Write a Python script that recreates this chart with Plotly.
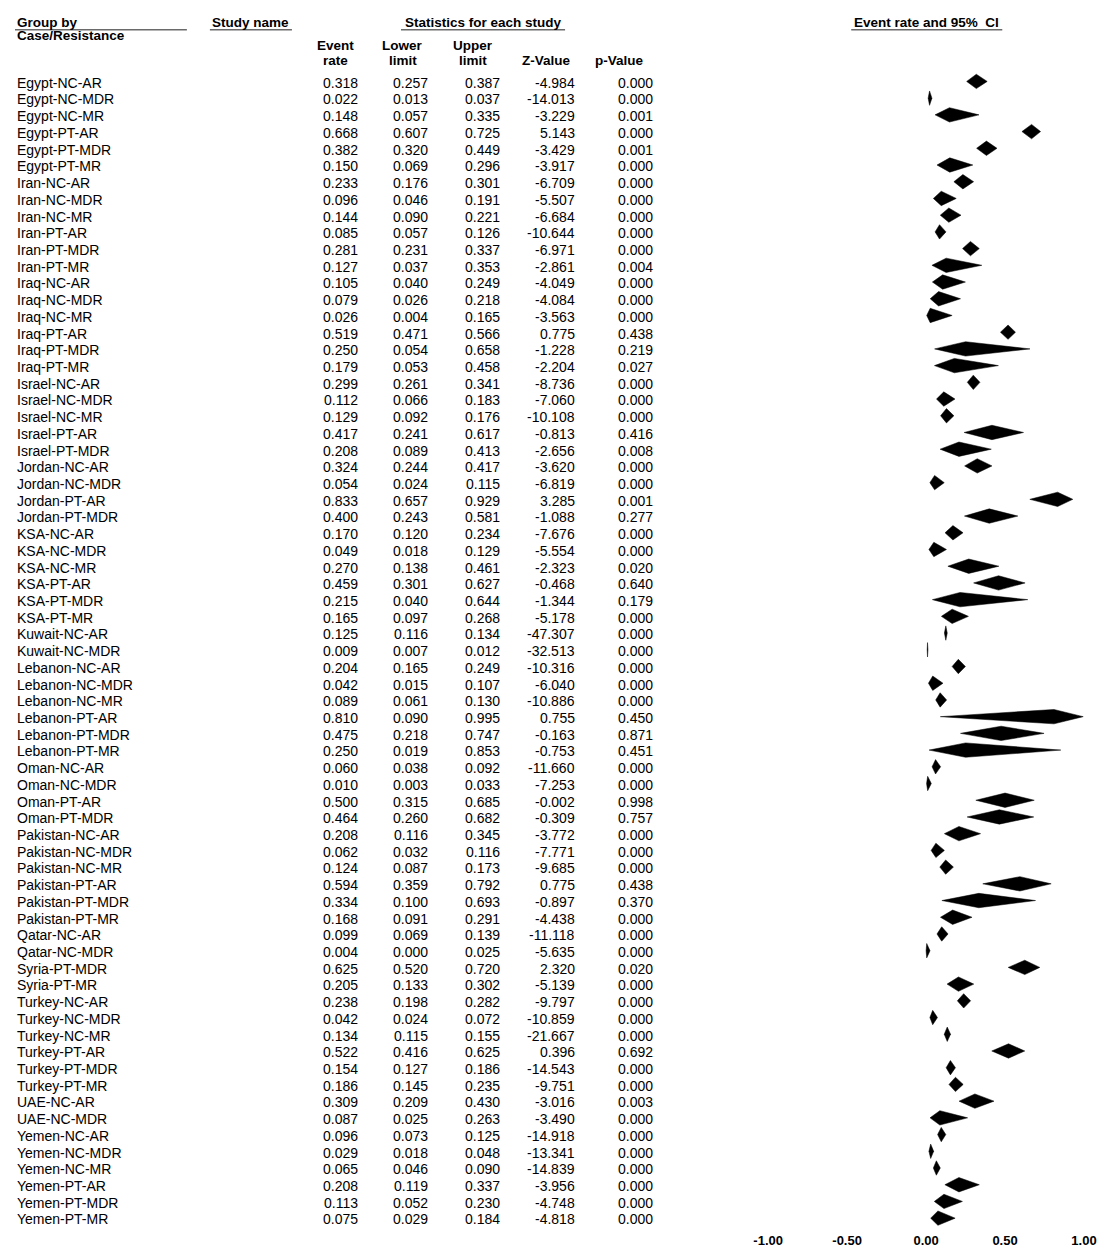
import plotly.graph_objects as go

# ---------------- data ----------------
study_labels = [
    "Egypt-NC-AR", "Egypt-NC-MDR", "Egypt-NC-MR", "Egypt-PT-AR", "Egypt-PT-MDR", "Egypt-PT-MR",
    "Iran-NC-AR", "Iran-NC-MDR", "Iran-NC-MR", "Iran-PT-AR", "Iran-PT-MDR", "Iran-PT-MR",
    "Iraq-NC-AR", "Iraq-NC-MDR", "Iraq-NC-MR", "Iraq-PT-AR", "Iraq-PT-MDR", "Iraq-PT-MR",
    "Israel-NC-AR", "Israel-NC-MDR", "Israel-NC-MR", "Israel-PT-AR", "Israel-PT-MDR",
    "Jordan-NC-AR", "Jordan-NC-MDR", "Jordan-PT-AR", "Jordan-PT-MDR",
    "KSA-NC-AR", "KSA-NC-MDR", "KSA-NC-MR", "KSA-PT-AR", "KSA-PT-MDR", "KSA-PT-MR",
    "Kuwait-NC-AR", "Kuwait-NC-MDR",
    "Lebanon-NC-AR", "Lebanon-NC-MDR", "Lebanon-NC-MR", "Lebanon-PT-AR", "Lebanon-PT-MDR", "Lebanon-PT-MR",
    "Oman-NC-AR", "Oman-NC-MDR", "Oman-PT-AR", "Oman-PT-MDR",
    "Pakistan-NC-AR", "Pakistan-NC-MDR", "Pakistan-NC-MR", "Pakistan-PT-AR", "Pakistan-PT-MDR", "Pakistan-PT-MR",
    "Qatar-NC-AR", "Qatar-NC-MDR",
    "Syria-PT-MDR", "Syria-PT-MR",
    "Turkey-NC-AR", "Turkey-NC-MDR", "Turkey-NC-MR", "Turkey-PT-AR", "Turkey-PT-MDR", "Turkey-PT-MR",
    "UAE-NC-AR", "UAE-NC-MDR",
    "Yemen-NC-AR", "Yemen-NC-MDR", "Yemen-NC-MR", "Yemen-PT-AR", "Yemen-PT-MDR", "Yemen-PT-MR",
]
event_rate = [
    0.318, 0.022, 0.148, 0.668, 0.382, 0.150,
    0.233, 0.096, 0.144, 0.085, 0.281, 0.127,
    0.105, 0.079, 0.026, 0.519, 0.250, 0.179,
    0.299, 0.112, 0.129, 0.417, 0.208,
    0.324, 0.054, 0.833, 0.400,
    0.170, 0.049, 0.270, 0.459, 0.215, 0.165,
    0.125, 0.009,
    0.204, 0.042, 0.089, 0.810, 0.475, 0.250,
    0.060, 0.010, 0.500, 0.464,
    0.208, 0.062, 0.124, 0.594, 0.334, 0.168,
    0.099, 0.004,
    0.625, 0.205,
    0.238, 0.042, 0.134, 0.522, 0.154, 0.186,
    0.309, 0.087,
    0.096, 0.029, 0.065, 0.208, 0.113, 0.075,
]
lower_limit = [
    0.257, 0.013, 0.057, 0.607, 0.320, 0.069,
    0.176, 0.046, 0.090, 0.057, 0.231, 0.037,
    0.040, 0.026, 0.004, 0.471, 0.054, 0.053,
    0.261, 0.066, 0.092, 0.241, 0.089,
    0.244, 0.024, 0.657, 0.243,
    0.120, 0.018, 0.138, 0.301, 0.040, 0.097,
    0.116, 0.007,
    0.165, 0.015, 0.061, 0.090, 0.218, 0.019,
    0.038, 0.003, 0.315, 0.260,
    0.116, 0.032, 0.087, 0.359, 0.100, 0.091,
    0.069, 0.000,
    0.520, 0.133,
    0.198, 0.024, 0.115, 0.416, 0.127, 0.145,
    0.209, 0.025,
    0.073, 0.018, 0.046, 0.119, 0.052, 0.029,
]
upper_limit = [
    0.387, 0.037, 0.335, 0.725, 0.449, 0.296,
    0.301, 0.191, 0.221, 0.126, 0.337, 0.353,
    0.249, 0.218, 0.165, 0.566, 0.658, 0.458,
    0.341, 0.183, 0.176, 0.617, 0.413,
    0.417, 0.115, 0.929, 0.581,
    0.234, 0.129, 0.461, 0.627, 0.644, 0.268,
    0.134, 0.012,
    0.249, 0.107, 0.130, 0.995, 0.747, 0.853,
    0.092, 0.033, 0.685, 0.682,
    0.345, 0.116, 0.173, 0.792, 0.693, 0.291,
    0.139, 0.025,
    0.720, 0.302,
    0.282, 0.072, 0.155, 0.625, 0.186, 0.235,
    0.430, 0.263,
    0.125, 0.048, 0.090, 0.337, 0.230, 0.184,
]
z_value = [
    -4.984, -14.013, -3.229, 5.143, -3.429, -3.917,
    -6.709, -5.507, -6.684, -10.644, -6.971, -2.861,
    -4.049, -4.084, -3.563, 0.775, -1.228, -2.204,
    -8.736, -7.060, -10.108, -0.813, -2.656,
    -3.620, -6.819, 3.285, -1.088,
    -7.676, -5.554, -2.323, -0.468, -1.344, -5.178,
    -47.307, -32.513,
    -10.316, -6.040, -10.886, 0.755, -0.163, -0.753,
    -11.660, -7.253, -0.002, -0.309,
    -3.772, -7.771, -9.685, 0.775, -0.897, -4.438,
    -11.118, -5.635,
    2.320, -5.139,
    -9.797, -10.859, -21.667, 0.396, -14.543, -9.751,
    -3.016, -3.490,
    -14.918, -13.341, -14.839, -3.956, -4.748, -4.818,
]
p_value = [
    0.000, 0.000, 0.001, 0.000, 0.001, 0.000,
    0.000, 0.000, 0.000, 0.000, 0.000, 0.004,
    0.000, 0.000, 0.000, 0.438, 0.219, 0.027,
    0.000, 0.000, 0.000, 0.416, 0.008,
    0.000, 0.000, 0.001, 0.277,
    0.000, 0.000, 0.020, 0.640, 0.179, 0.000,
    0.000, 0.000,
    0.000, 0.000, 0.000, 0.450, 0.871, 0.451,
    0.000, 0.000, 0.998, 0.757,
    0.000, 0.000, 0.000, 0.438, 0.370, 0.000,
    0.000, 0.000,
    0.020, 0.000,
    0.000, 0.000, 0.000, 0.692, 0.000, 0.000,
    0.003, 0.000,
    0.000, 0.000, 0.000, 0.000, 0.000, 0.000,
]
x_tick_values = [-1.0, -0.5, 0.0, 0.5, 1.0]
x_tick_labels = ["-1.00", "-0.50", "0.00", "0.50", "1.00"]

# ---------------- layout helpers ----------------
W, H = 1097, 1248
MB = 16
PH = H - MB
ROW0 = 81.5
STEP = 16.73
HALF = 0.43  # diamond half height in rows

def ypx(px):
    return (px - ROW0) / STEP

def xp(t):
    # target picture x -> figure paper x (compensates the capture offset/scale)
    return max(0.0, (t - 16.2) / 0.974) / W

FONT = "Liberation Sans, Arial, sans-serif"
ROWFONT = dict(family=FONT, size=14, color="black")
HDRFONT = dict(family=FONT, size=13.5, color="black", weight="bold")

fig = go.Figure()

for i in range(len(study_labels)):
    fig.add_trace(go.Scatter(
        x=[lower_limit[i], event_rate[i], upper_limit[i], event_rate[i], lower_limit[i]],
        y=[i, i - HALF, i, i + HALF, i],
        mode="lines", fill="toself", fillcolor="black",
        line=dict(color="black", width=0.5),
        hoverinfo="skip", showlegend=False,
    ))

ann = []
col_right = [361, 431, 503, 578, 656]
cols = [event_rate, lower_limit, upper_limit, z_value, p_value]
for i, lab in enumerate(study_labels):
    ann.append(dict(x=xp(10), y=i + 0.08, xref="paper", yref="y", text=lab, showarrow=False,
                    xanchor="left", yanchor="middle", font=ROWFONT))
    for c, r in zip(cols, col_right):
        ann.append(dict(x=xp(r), y=i + 0.08, xref="paper", yref="y", text=f"{c[i]:.3f}",
                        showarrow=False, xanchor="right", yanchor="middle", font=ROWFONT))

def hdr(text, xpx, ypx_, anchor="center"):
    ann.append(dict(x=xp(xpx), y=ypx(ypx_), xref="paper", yref="y", text=text, showarrow=False,
                    xanchor=anchor, yanchor="middle", font=HDRFONT))

hdr("Group by", 9, 22.7, "left")
hdr("Case/Resistance", 9, 35.7, "left")
hdr("Study name", 211, 22.7, "left")
hdr("Statistics for each study", 484, 22.7)
hdr("Event rate and 95%  CI", 927, 22.7)
for top, bot, cx in [("Event", "rate", 337), ("Lower", "limit", 404), ("Upper", "limit", 474),
                     (None, "Z-Value", 547), (None, "p-Value", 620)]:
    if top:
        hdr(top, cx, 45.3)
    hdr(bot, cx, 60.7)

shapes = []
for x0, x1 in [(9, 188), (211, 293), (402, 566), (852, 1003)]:
    shapes.append(dict(type="line", xref="paper", yref="y", x0=xp(x0), x1=xp(x1),
                       y0=ypx(29.8), y1=ypx(29.8), line=dict(color="#6a6a6a", width=1.6)))

fig.update_layout(
    width=W, height=H,
    margin=dict(l=0, r=0, t=0, b=MB),
    paper_bgcolor="white", plot_bgcolor="white",
    showlegend=False,
    annotations=ann, shapes=shapes,
    xaxis=dict(domain=[xp(769), 1.0], range=[-1.0, 1.0],
               tickvals=x_tick_values, ticktext=x_tick_labels,
               showgrid=False, zeroline=False, showline=False, ticks="",
               ticklabeloverflow="allow",
               tickfont=dict(family=FONT, size=13, color="black", weight="bold"),
               fixedrange=True),
    yaxis=dict(domain=[0, 1], range=[ypx(PH), ypx(0)],
               showgrid=False, zeroline=False, showline=False, showticklabels=False,
               fixedrange=True),
)

fig.write_html("out.html", config={"displayModeBar": False},
               post_script="document.body.style.margin='0';document.body.style.overflow='hidden';")
